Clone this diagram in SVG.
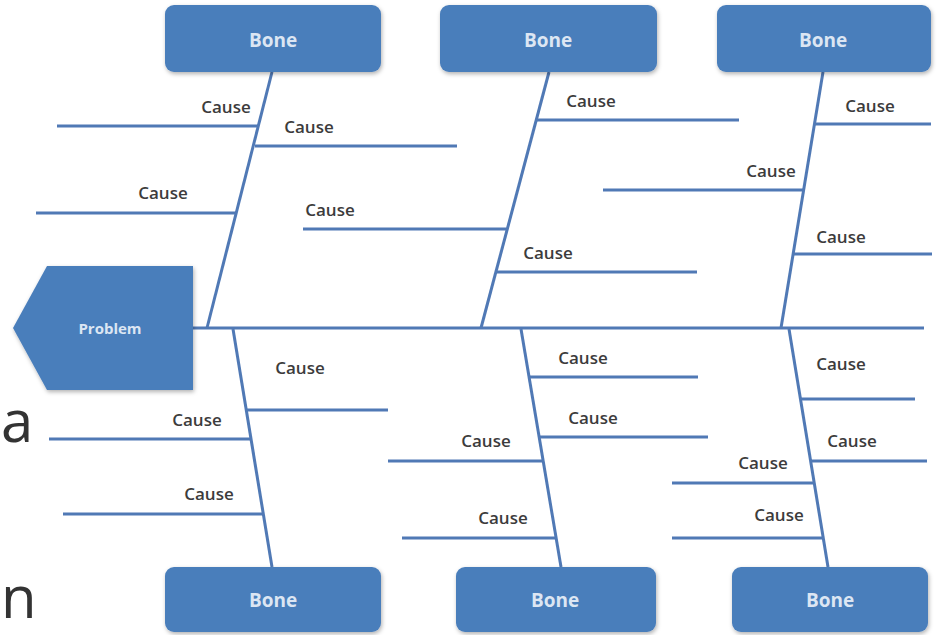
<svg xmlns="http://www.w3.org/2000/svg" width="944" height="635" viewBox="0 0 944 635">
<defs>
<filter id="sh" x="-10%" y="-10%" width="125%" height="140%">
<feDropShadow dx="1" dy="2" stdDeviation="2" flood-color="#000" flood-opacity="0.3"/>
</filter>
</defs>
<style>
.box{fill:#4a7ebb;filter:url(#sh)}
.bt{font-family:"Open Sans","DejaVu Sans",sans-serif;font-weight:700;font-size:19px;fill:#dce6f3;text-anchor:middle}
.pt{font-family:"Open Sans","DejaVu Sans",sans-serif;font-weight:700;font-size:15px;fill:#dce6f3;text-anchor:middle}
.ct{font-family:"Open Sans","DejaVu Sans",sans-serif;font-weight:600;font-size:17px;fill:#3c3c3c;text-anchor:middle}
.big{font-family:"Open Sans","DejaVu Sans",sans-serif;font-size:58px;fill:#333}
.ln{stroke:#5079b5;stroke-width:3;fill:none;stroke-linecap:butt}
</style>
<rect width="944" height="635" fill="#fff"/>
<text class="big" x="1" y="442">a</text>
<text class="big" x="1" y="618">n</text>

<g id="connectors">
<line class="ln" x1="193" y1="328" x2="924" y2="328"/>
<line class="ln" x1="272" y1="72" x2="207" y2="328"/>
<line class="ln" x1="549" y1="72" x2="481" y2="328"/>
<line class="ln" x1="823" y1="72" x2="781" y2="328"/>
<line class="ln" x1="233" y1="329" x2="272" y2="567"/>
<line class="ln" x1="521" y1="329" x2="561" y2="567"/>
<line class="ln" x1="789" y1="329" x2="828" y2="567"/>
<line class="ln" x1="57" y1="126" x2="258" y2="126"/>
<line class="ln" x1="255" y1="146" x2="457" y2="146"/>
<line class="ln" x1="36" y1="213" x2="237" y2="213"/>
<line class="ln" x1="537" y1="120" x2="739" y2="120"/>
<line class="ln" x1="303" y1="229" x2="506" y2="229"/>
<line class="ln" x1="496" y1="272" x2="697" y2="272"/>
<line class="ln" x1="815" y1="124" x2="931" y2="124"/>
<line class="ln" x1="603" y1="190" x2="803" y2="190"/>
<line class="ln" x1="792" y1="254" x2="932" y2="254"/>
<line class="ln" x1="247" y1="410" x2="388" y2="410"/>
<line class="ln" x1="49" y1="439" x2="252" y2="439"/>
<line class="ln" x1="63" y1="514" x2="264" y2="514"/>
<line class="ln" x1="529" y1="377" x2="698" y2="377"/>
<line class="ln" x1="539" y1="437" x2="708" y2="437"/>
<line class="ln" x1="388" y1="461" x2="543" y2="461"/>
<line class="ln" x1="402" y1="538" x2="556" y2="538"/>
<line class="ln" x1="800" y1="399" x2="915" y2="399"/>
<line class="ln" x1="810" y1="461" x2="927" y2="461"/>
<line class="ln" x1="672" y1="483" x2="815" y2="483"/>
<line class="ln" x1="672" y1="538" x2="824" y2="538"/>
</g>

<g id="problem">
<polygon class="box" points="13,328 47,266 193,266 193,390 47,390"/>
<text class="pt" x="110" y="334">Problem</text>
</g>

<g id="bone-top-1"><rect class="box" x="165" y="5" width="216" height="67" rx="9"/><text class="bt" x="273" y="47">Bone</text></g>
<g id="bone-top-2"><rect class="box" x="440" y="5" width="217" height="67" rx="9"/><text class="bt" x="548" y="47">Bone</text></g>
<g id="bone-top-3"><rect class="box" x="717" y="5" width="214" height="67" rx="9"/><text class="bt" x="823" y="47">Bone</text></g>
<g id="bone-bottom-1"><rect class="box" x="165" y="567" width="216" height="65" rx="9"/><text class="bt" x="273" y="607">Bone</text></g>
<g id="bone-bottom-2"><rect class="box" x="456" y="567" width="200" height="65" rx="9"/><text class="bt" x="555" y="607">Bone</text></g>
<g id="bone-bottom-3"><rect class="box" x="732" y="567" width="196" height="65" rx="9"/><text class="bt" x="830" y="607">Bone</text></g>

<g id="causes">
<text class="ct" x="226" y="113">Cause</text>
<text class="ct" x="309" y="133">Cause</text>
<text class="ct" x="163" y="199">Cause</text>
<text class="ct" x="591" y="107">Cause</text>
<text class="ct" x="330" y="216">Cause</text>
<text class="ct" x="548" y="259">Cause</text>
<text class="ct" x="870" y="112">Cause</text>
<text class="ct" x="771" y="177">Cause</text>
<text class="ct" x="841" y="243">Cause</text>
<text class="ct" x="300" y="374">Cause</text>
<text class="ct" x="197" y="426">Cause</text>
<text class="ct" x="209" y="500">Cause</text>
<text class="ct" x="583" y="364">Cause</text>
<text class="ct" x="593" y="424">Cause</text>
<text class="ct" x="486" y="447">Cause</text>
<text class="ct" x="503" y="524">Cause</text>
<text class="ct" x="841" y="370">Cause</text>
<text class="ct" x="852" y="447">Cause</text>
<text class="ct" x="763" y="469">Cause</text>
<text class="ct" x="779" y="521">Cause</text>
</g>
</svg>
